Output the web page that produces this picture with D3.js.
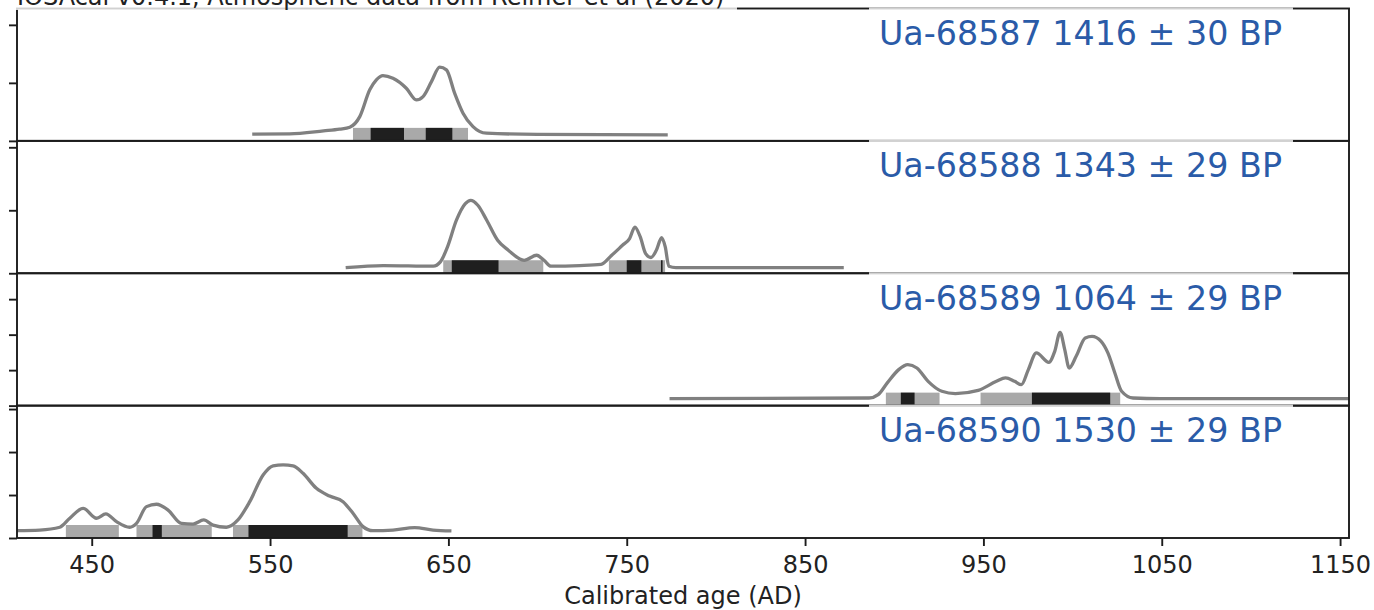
<!DOCTYPE html>
<html>
<head>
<meta charset="utf-8">
<script src="https://cdn.jsdelivr.net/npm/d3@7"></script>
<style>
  body { margin: 0; background: #fff; }
  svg text { font-family: "DejaVu Sans", sans-serif; }
</style>
</head>
<body>
<svg id="chart" width="1374" height="610"></svg>
<script>
// ---- data ----
const title = "IOSAcal v0.4.1, Atmospheric data from Reimer et al (2020)";
const xLabel = "Calibrated age (AD)";
const xDomain = [408.1, 1155];
const xTicks = [450, 550, 650, 750, 850, 950, 1050, 1150];

const samples = ["Ua-68587", "Ua-68588", "Ua-68589", "Ua-68590"];
const ages = [1416, 1343, 1064, 1530];
const errors = [30, 29, 29, 29];

// y limits and y ticks of every panel (probability density)
const yMax = [0.01141, 0.01051, 0.00746, 0.00616];
const yTicks = [
  [0, 0.005, 0.010],
  [0, 0.005, 0.010],
  [0, 0.002, 0.004, 0.006],
  [0, 0.002, 0.004, 0.006]
];

// calibrated curves: [year AD, density]
const curve1 = [
  [540, 0.00058], [561, 0.00060], [580, 0.00086], [589, 0.00101], [594.7, 0.00118],
  [600.3, 0.00209], [605.9, 0.00440], [609.6, 0.00526], [613.3, 0.00563], [618.9, 0.00540],
  [626.4, 0.00454], [632, 0.00353], [635.8, 0.00382], [640.5, 0.00511], [645.1, 0.00635],
  [648.9, 0.00612], [653.5, 0.00411], [658.2, 0.00239], [663.8, 0.00123], [671.3, 0.00066],
  [700, 0.00056], [773, 0.00052]
];
const curve2 = [
  [592.4, 0.00045], [613.5, 0.00061], [641.5, 0.00056], [645.5, 0.00090], [649.5, 0.00209],
  [654.5, 0.00421], [659.5, 0.00553], [662.5, 0.00579], [666.5, 0.00540], [671.5, 0.00421],
  [677.6, 0.00262], [683.6, 0.00183], [692.5, 0.00103], [699.5, 0.00143], [703.6, 0.00103],
  [707.5, 0.00056], [723.6, 0.00061], [735.6, 0.00071], [741.6, 0.00143], [747.6, 0.00222],
  [751.6, 0.00275], [754.6, 0.00367], [757.6, 0.00288], [760.6, 0.00156], [763.6, 0.00125],
  [766.6, 0.00183], [769.6, 0.00283], [771.6, 0.00209], [773.6, 0.00056], [777.6, 0.00045],
  [871.7, 0.00045]
];
const curve3 = [
  [774, 0.00039], [885.9, 0.00043], [891, 0.00062], [896.1, 0.00128], [902.5, 0.00203],
  [907.6, 0.00231], [912.7, 0.00212], [919, 0.00137], [926.7, 0.00081], [934.3, 0.00068],
  [947.1, 0.00086], [957.3, 0.00137], [962.4, 0.00156], [967.5, 0.00137], [971.3, 0.00118],
  [975.2, 0.00203], [979.7, 0.00297], [986.7, 0.00244], [990, 0.00306], [993, 0.00413],
  [995.6, 0.00316], [998.1, 0.00212], [1002, 0.00278], [1007.1, 0.00381], [1010.9, 0.00390],
  [1016, 0.00362], [1019.8, 0.00297], [1023.7, 0.00184], [1027.5, 0.00081], [1033.9, 0.00043],
  [1049.2, 0.00039], [1160, 0.00039]
];
const curve4 = [
  [405, 0.00034], [420.9, 0.00037], [432.1, 0.00050], [437.7, 0.00092], [445.2, 0.00138],
  [452.7, 0.00092], [457.9, 0.00112], [463.9, 0.00076], [471.3, 0.00050], [475.1, 0.00068],
  [480.7, 0.00146], [486.3, 0.00157], [492.8, 0.00130], [500.3, 0.00068], [506.8, 0.00065],
  [512.8, 0.00084], [518, 0.00060], [525.5, 0.00050], [532, 0.00084], [538.6, 0.00169],
  [546.1, 0.00293], [551.7, 0.00336], [557.3, 0.00340], [562.9, 0.00336], [568.5, 0.00301],
  [576, 0.00231], [583.4, 0.00195], [590.9, 0.00169], [596.5, 0.00115], [602.1, 0.00053],
  [607.7, 0.00034], [618.9, 0.00037], [631.1, 0.00048], [641.4, 0.00037], [651.7, 0.00033]
];

// highest density ranges: 95 % (light) and 68 % (dark), [from, to] AD
const hpd95_1 = [[596.5, 661]];
const hpd68_1 = [[606.4, 625.1], [637.3, 652.2]];
const hpd95_2 = [[647.1, 703.2], [740, 771.5]];
const hpd68_2 = [[651.9, 678.1], [750, 758.2], [769.2, 770.1]];
const hpd95_3 = [[895.3, 925.4], [948.4, 1026.7]];
const hpd68_3 = [[903.7, 911.4], [977.2, 1021.1]];
const hpd95_4 = [[435.5, 465.2], [475.1, 517.3], [529.2, 601.8]];
const hpd68_4 = [[484.1, 489.3], [537.9, 593.5]];

const curves = [curve1, curve2, curve3, curve4];
const hpd95 = [hpd95_1, hpd95_2, hpd95_3, hpd95_4];
const hpd68 = [hpd68_1, hpd68_2, hpd68_3, hpd68_4];

// ---- layout ----
const margin = { left: 17, right: 25, top: 8.5, bottom: 72 };
const W = 1374, H = 610;
const plotBottom = H - margin.bottom;
const panelH = (plotBottom - margin.top) / samples.length;
const barH = 13;
const ink = "#1c1c1c";

const svg = d3.select("#chart");

const x = d3.scaleLinear()
  .domain(xDomain)
  .range([margin.left, W - margin.right]);

const line = d3.line().curve(d3.curveMonotoneX);

samples.forEach((name, i) => {
  const top = margin.top + i * panelH;
  const bottom = top + panelH;
  const y = d3.scaleLinear().domain([0, yMax[i]]).range([bottom, top]);

  svg.append("clipPath")
    .attr("id", "clip" + i)
    .append("rect")
    .attr("x", x.range()[0])
    .attr("y", top)
    .attr("width", x.range()[1] - x.range()[0])
    .attr("height", panelH);

  const g = svg.append("g").attr("clip-path", `url(#clip${i})`);

  // HPD bars
  g.selectAll(".b95")
    .data(hpd95[i])
    .enter().append("rect")
    .attr("x", d => x(d[0]))
    .attr("width", d => x(d[1]) - x(d[0]))
    .attr("y", y(0) - barH)
    .attr("height", barH)
    .attr("fill", "#a9a9a9");

  g.selectAll(".b68")
    .data(hpd68[i])
    .enter().append("rect")
    .attr("x", d => x(d[0]))
    .attr("width", d => x(d[1]) - x(d[0]))
    .attr("y", y(0) - barH)
    .attr("height", barH)
    .attr("fill", "#1f1f1f");

  // density curve
  g.append("path")
    .datum(curves[i])
    .attr("d", line.x(d => x(d[0])).y(d => y(d[1])))
    .attr("fill", "none")
    .attr("stroke", "#808080")
    .attr("stroke-width", 3.3)
    .attr("stroke-linejoin", "round");

  // frame
  svg.append("rect")
    .attr("x", x.range()[0])
    .attr("y", top)
    .attr("width", x.range()[1] - x.range()[0])
    .attr("height", panelH)
    .attr("fill", "none")
    .attr("stroke", ink)
    .attr("stroke-width", 1.9);

  // y ticks (labels off)
  const ya = svg.append("g")
    .attr("transform", `translate(${margin.left},0)`)
    .call(d3.axisLeft(y).tickValues(yTicks[i]).tickSize(8).tickSizeOuter(0).tickFormat(""));
  ya.select(".domain").remove();
  ya.selectAll("line").attr("stroke", ink).attr("stroke-width", 1.9);
});

// x axis
const xa = svg.append("g")
  .attr("transform", `translate(0,${plotBottom})`)
  .call(d3.axisBottom(x).tickValues(xTicks).tickSize(8).tickPadding(10)
    .tickSizeOuter(0).tickFormat(d3.format("d")));
xa.select(".domain").remove();
xa.selectAll("line").attr("stroke", ink).attr("stroke-width", 1.9);
xa.selectAll("text")
  .attr("fill", "#222")
  .style("font-size", "24px");

svg.append("text")
  .attr("x", (x.range()[0] + x.range()[1]) / 2)
  .attr("y", 604)
  .attr("text-anchor", "middle")
  .attr("fill", "#222")
  .style("font-size", "24px")
  .text(xLabel);

// sample labels in translucent legend boxes
samples.forEach((name, i) => {
  const top = margin.top + i * panelH;
  svg.append("rect")
    .attr("x", 869)
    .attr("y", top - 1)
    .attr("width", 424)
    .attr("height", 52)
    .attr("fill", "#fff")
    .attr("fill-opacity", 0.8);
  svg.append("text")
    .attr("x", 879)
    .attr("y", top + 36.5)
    .attr("fill", "#2a5ba8")
    .style("font-size", "33.3px")
    .text(`${name} ${ages[i]} ± ${errors[i]} BP`);
});

// title (cut off at the top edge, as in the reference)
svg.append("rect")
  .attr("x", 12)
  .attr("y", -30)
  .attr("width", 725)
  .attr("height", 40)
  .attr("fill", "#fff")
  .attr("fill-opacity", 0.8);
svg.append("text")
  .attr("x", 17)
  .attr("y", 5)
  .attr("fill", "#222")
  .style("font-size", "24px")
  .text(title);
</script>
</body>
</html>
